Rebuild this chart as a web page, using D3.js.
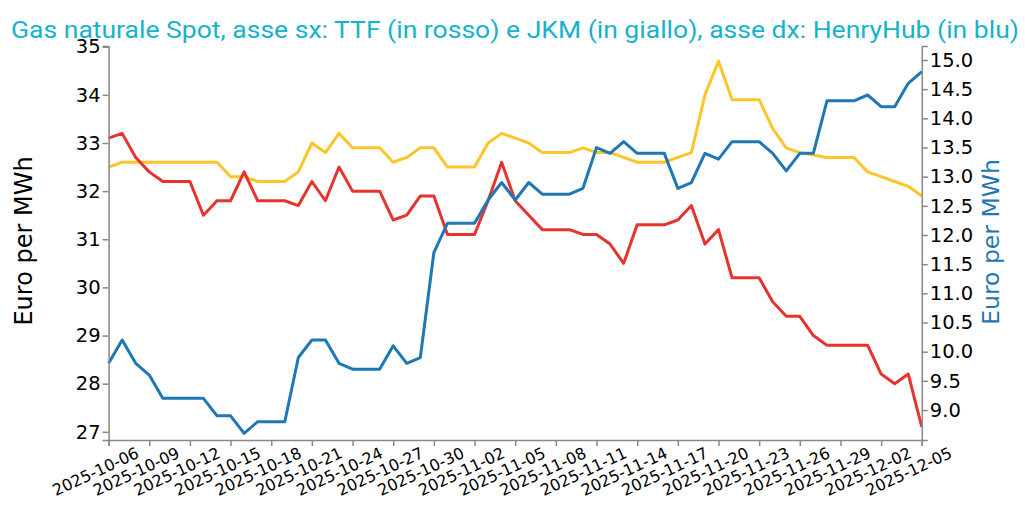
<!DOCTYPE html>
<html><head><meta charset="utf-8">
<script src="https://cdn.jsdelivr.net/npm/d3@7"></script>
<style>
body{margin:0;background:#fff;}
svg{display:block;}
</style></head>
<body><svg id="c" width="1025" height="507"></svg>
<script>
const dates = ["2025-10-06","2025-10-07","2025-10-08","2025-10-09","2025-10-10","2025-10-11","2025-10-12","2025-10-13","2025-10-14","2025-10-15",
"2025-10-16","2025-10-17","2025-10-18","2025-10-19","2025-10-20","2025-10-21","2025-10-22","2025-10-23","2025-10-24","2025-10-25",
"2025-10-26","2025-10-27","2025-10-28","2025-10-29","2025-10-30","2025-10-31","2025-11-01","2025-11-02","2025-11-03","2025-11-04",
"2025-11-05","2025-11-06","2025-11-07","2025-11-08","2025-11-09","2025-11-10","2025-11-11","2025-11-12","2025-11-13","2025-11-14",
"2025-11-15","2025-11-16","2025-11-17","2025-11-18","2025-11-19","2025-11-20","2025-11-21","2025-11-22","2025-11-23","2025-11-24",
"2025-11-25","2025-11-26","2025-11-27","2025-11-28","2025-11-29","2025-11-30","2025-12-01","2025-12-02","2025-12-03","2025-12-04","2025-12-05"];

const ttf = [33.1,33.2,32.7,32.4,32.2,32.2,32.2,31.5,31.8,31.8,
32.4,31.8,31.8,31.8,31.7,32.2,31.8,32.5,32.0,32.0,
32.0,31.4,31.5,31.9,31.9,31.1,31.1,31.1,31.8,32.6,
31.8,31.5,31.2,31.2,31.2,31.1,31.1,30.9,30.5,31.3,
31.3,31.3,31.4,31.7,30.9,31.2,30.2,30.2,30.2,29.7,
29.4,29.4,29.0,28.8,28.8,28.8,28.8,28.2,28.0,28.2,27.1];

const jkm = [32.5,32.6,32.6,32.6,32.6,32.6,32.6,32.6,32.6,32.3,
32.3,32.2,32.2,32.2,32.4,33.0,32.8,33.2,32.9,32.9,
32.9,32.6,32.7,32.9,32.9,32.5,32.5,32.5,33.0,33.2,
33.1,33.0,32.8,32.8,32.8,32.9,32.8,32.8,32.7,32.6,
32.6,32.6,32.7,32.8,34.0,34.7,33.9,33.9,33.9,33.3,
32.9,32.8,32.75,32.7,32.7,32.7,32.4,32.3,32.2,32.1,31.9];

const henryHub = [9.8,10.2,9.8,9.6,9.2,9.2,9.2,9.2,8.9,8.9,
8.6,8.8,8.8,8.8,9.9,10.2,10.2,9.8,9.7,9.7,
9.7,10.1,9.8,9.9,11.7,12.2,12.2,12.2,12.6,12.9,
12.6,12.9,12.7,12.7,12.7,12.8,13.5,13.4,13.6,13.4,
13.4,13.4,12.8,12.9,13.4,13.3,13.6,13.6,13.6,13.4,
13.1,13.4,13.4,14.3,14.3,14.3,14.4,14.2,14.2,14.6,14.8];

const xTickLabels = ["2025-10-06","2025-10-09","2025-10-12","2025-10-15","2025-10-18","2025-10-21","2025-10-24",
"2025-10-27","2025-10-30","2025-11-02","2025-11-05","2025-11-08","2025-11-11","2025-11-14","2025-11-17",
"2025-11-20","2025-11-23","2025-11-26","2025-11-29","2025-12-02","2025-12-05"];
const leftTicks = [27,28,29,30,31,32,33,34,35];
const rightTicks = [9.0,9.5,10.0,10.5,11.0,11.5,12.0,12.5,13.0,13.5,14.0,14.5,15.0];

const titleText = "Gas naturale Spot, asse sx: TTF (in rosso) e JKM (in giallo), asse dx: HenryHub (in blu)";
const leftLabel = "Euro per MWh";
const rightLabel = "Euro per MWh";

const parse = d3.utcParse("%Y-%m-%d");
const svg = d3.select("#c");
const L = 108.6, R = 921.8, T = 46, B = 440;

const x = d3.scaleUtc().domain([parse(dates[0]), parse(dates[dates.length-1])]).range([L, R]);
const yL = d3.scaleLinear().domain([26.83, 35.015]).range([B, T]);
const yR = d3.scaleLinear().domain([8.486, 15.24]).range([B, T]);

const axisColor = "#888";
const tickFont = "DejaVu Sans";

// Title
svg.append("text").attr("x", 11).attr("y", 37.5)
  .attr("font-family", "Roboto").attr("font-size", 24)
  .attr("textLength", 1008).attr("lengthAdjust", "spacingAndGlyphs")
  .attr("fill", "#17b2cc").text(titleText);

// Lines
function drawLine(vals, scale, color){
  const line = d3.line().x((d,i)=>x(parse(dates[i]))).y(d=>scale(d));
  svg.append("path").datum(vals).attr("d", line)
    .attr("fill","none").attr("stroke", color).attr("stroke-width", 3)
    .attr("stroke-linejoin","round");
}
drawLine(jkm, yL, "#fdc52a");
drawLine(ttf, yL, "#e5342f");
drawLine(henryHub, yR, "#1f77b4");

function styleAxis(g){
  g.select(".domain").attr("stroke", axisColor).attr("stroke-width", 1.5);
  g.selectAll(".tick line").attr("stroke", axisColor).attr("stroke-width", 1.5);
  g.selectAll(".tick text").attr("fill", "#000").attr("font-family", tickFont);
}

// X axis
const gx = svg.append("g").attr("transform", `translate(0,${B})`)
  .call(d3.axisBottom(x).tickValues(xTickLabels.map(parse)).tickSizeOuter(0).tickSize(6)
    .tickFormat(d3.utcFormat("%Y-%m-%d")));
styleAxis(gx);
gx.selectAll(".tick text").attr("font-size", 16).attr("text-anchor","end")
  .attr("dy", null).attr("y", null)
  .attr("transform", "translate(31,17) rotate(-25)");

// Left axis
const gl = svg.append("g").attr("transform", `translate(${L},0)`)
  .call(d3.axisLeft(yL).tickValues(leftTicks).tickSizeOuter(0).tickSize(6).tickFormat(d3.format("d")));
styleAxis(gl);
gl.selectAll(".tick text").attr("font-size", 19.5).attr("x", -8);

// Right axis
const gr = svg.append("g").attr("transform", `translate(${R},0)`)
  .call(d3.axisRight(yR).tickValues(rightTicks).tickSizeOuter(0).tickSize(6).tickFormat(d3.format(".1f")));
styleAxis(gr);
gr.selectAll(".tick text").attr("font-size", 19.5).attr("x", 8);

// Axis labels
svg.append("text").attr("transform", "translate(31.5,241) rotate(-90)")
  .attr("text-anchor","middle").attr("font-family", tickFont).attr("font-size", 24)
  .attr("fill","#000").text(leftLabel);
svg.append("text").attr("transform", "translate(999,242) rotate(-90)")
  .attr("text-anchor","middle").attr("font-family", tickFont).attr("font-size", 23.5)
  .attr("fill","#1f77b4").text(rightLabel);
</script></body></html>
